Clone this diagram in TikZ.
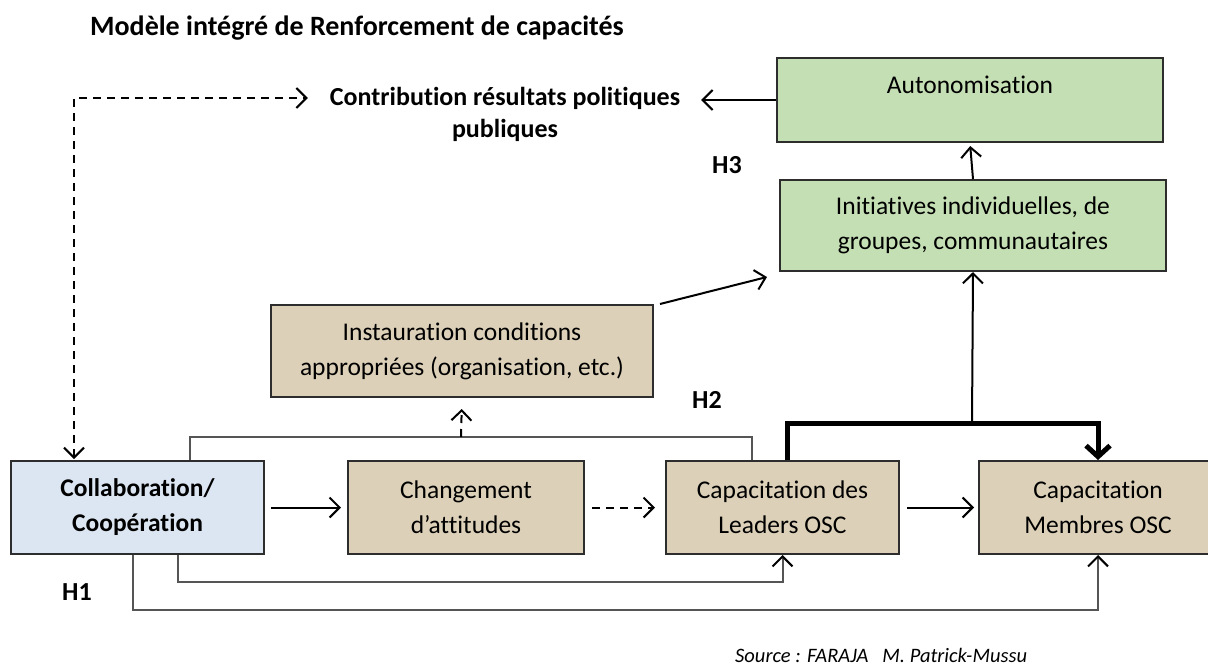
\documentclass[tikz,border=0pt]{standalone}
\usepackage{fontspec}
\setmainfont{Carlito}[Ligatures={NoCommon}]
\usetikzlibrary{arrows.meta}
\definecolor{grn}{RGB}{197,223,180}
\definecolor{blu}{RGB}{220,230,242}
\definecolor{bei}{RGB}{220,208,184}
\definecolor{edgec}{RGB}{45,45,45}
\definecolor{glin}{RGB}{85,85,85}
\begin{document}
\begin{tikzpicture}[x=1pt,y=-1pt,
  boxbase/.style={draw=edgec, line width=2pt, anchor=north west, align=center, inner sep=0pt,
    font=\fontsize{25.5}{35}\selectfont},
  greenbox/.style={boxbase, fill=grn},
  beigebox/.style={boxbase, fill=bei},
  bluebox/.style={boxbase, fill=blu, font=\bfseries\fontsize{25.5}{35}\selectfont},
  boldtxt/.style={font=\bfseries\fontsize{26}{30}\selectfont, inner sep=0pt},
  arr/.style={line width=2pt, -{Straight Barb[length=10pt,width=20pt,line width=2pt]}},
  dasharr/.style={arr, dash pattern=on 8pt off 6pt},
  garr/.style={draw=glin, line width=2pt, -{Straight Barb[length=10pt,width=20pt,line width=2pt,color=black]}},
  gline/.style={draw=glin, line width=2pt},
  thickarr/.style={line width=5pt, -{Straight Barb[length=11pt,width=24pt,line width=5pt]}}
]
\useasboundingbox (0,0) rectangle (1208,667);
\fill[white] (0,0) rectangle (1208,667);

% title and free text
\node[boldtxt, font=\bfseries\fontsize{28}{32}\selectfont, anchor=west] (title) at (90,28) {Modèle intégré de Renforcement de capacités};
\node[boldtxt, align=center, font=\bfseries\fontsize{26}{32}\selectfont] (contrib) at (505,114) {Contribution résultats politiques\\publiques};

% boxes
\node[greenbox, minimum width=386pt, minimum height=84pt,
  label={[font=\fontsize{25.5}{30}\selectfont, anchor=north, yshift=-15pt]north:Autonomisation}] (auto) at (776,57) {};
\node[greenbox, minimum width=386pt, minimum height=91pt] (init) at (779,179) {Initiatives individuelles, de\\groupes, communautaires};
\node[beigebox, minimum width=382pt, minimum height=92pt] (inst) at (270,304) {Instauration conditions\\appropriées (organisation, etc.)};
\node[bluebox, minimum width=253pt, minimum height=93pt] (col) at (10,460) {Collaboration/\\Coopération};
\node[beigebox, minimum width=236pt, minimum height=93pt] (chg) at (347,460) {Changement\\d’attitudes};
\node[beigebox, minimum width=233pt, minimum height=93pt] (lead) at (665,460) {Capacitation des\\Leaders OSC};
\node[beigebox, minimum width=238pt, minimum height=93pt] (mem) at (978,460) {Capacitation\\Membres OSC};

% hypothesis labels
\node[boldtxt] (h1) at (77,592) {H1};
\node[boldtxt] (h2) at (707,400) {H2};
\node[boldtxt] (h3) at (727,165) {H3};
\node[font=\itshape\fontsize{20.5}{24}\selectfont, anchor=west, inner sep=0pt] (src) at (735,655) {Source : FARAJA~~ M. Patrick-Mussu};

% named junctions
\coordinate (g) at (461,437);
\coordinate (t) at (972,423);
\coordinate (b1) at (500,582);
\coordinate (b2) at (600,610);

% connectors
\draw[arr, shorten >=3pt] (init.north) -- (auto.south);
\draw[arr, shorten >=21pt] (auto.west) -- (auto.west -| contrib.east);
\draw[dasharr, {Straight Barb[length=10pt,width=20pt,line width=2pt]}-{Straight Barb[length=10pt,width=20pt,line width=2pt]}, shorten >=22pt, shorten <=1pt]
  ([xshift=64pt]col.north west) |- ([yshift=16pt]contrib.west);
\draw[arr] ([xshift=6pt]inst.north east) -- ([xshift=-12pt,yshift=-5pt]init.south west);
\draw[gline] ([xshift=180pt]col.north west) |- (g) -| ([xshift=87pt]lead.north west);
\draw[dasharr, shorten >=11pt] (g) -- (inst.south);
\draw[thickarr] ([xshift=122pt]lead.north west) |- (t) -| (mem.north);
\draw[arr] (t) -- (init.south);
\draw[arr, shorten <=6pt, shorten >=6pt] (col.east) -- (chg.west);
\draw[dasharr, shorten <=7pt, shorten >=10pt] (chg.east) -- (lead.west);
\draw[arr, shorten <=7pt, shorten >=4pt] (lead.east) -- (mem.west);
\draw[garr] ([xshift=168pt]col.south west) |- (b1) -| (lead.south);
\draw[garr] ([xshift=123pt]col.south west) |- (b2) -| (mem.south);
\end{tikzpicture}
\end{document}
